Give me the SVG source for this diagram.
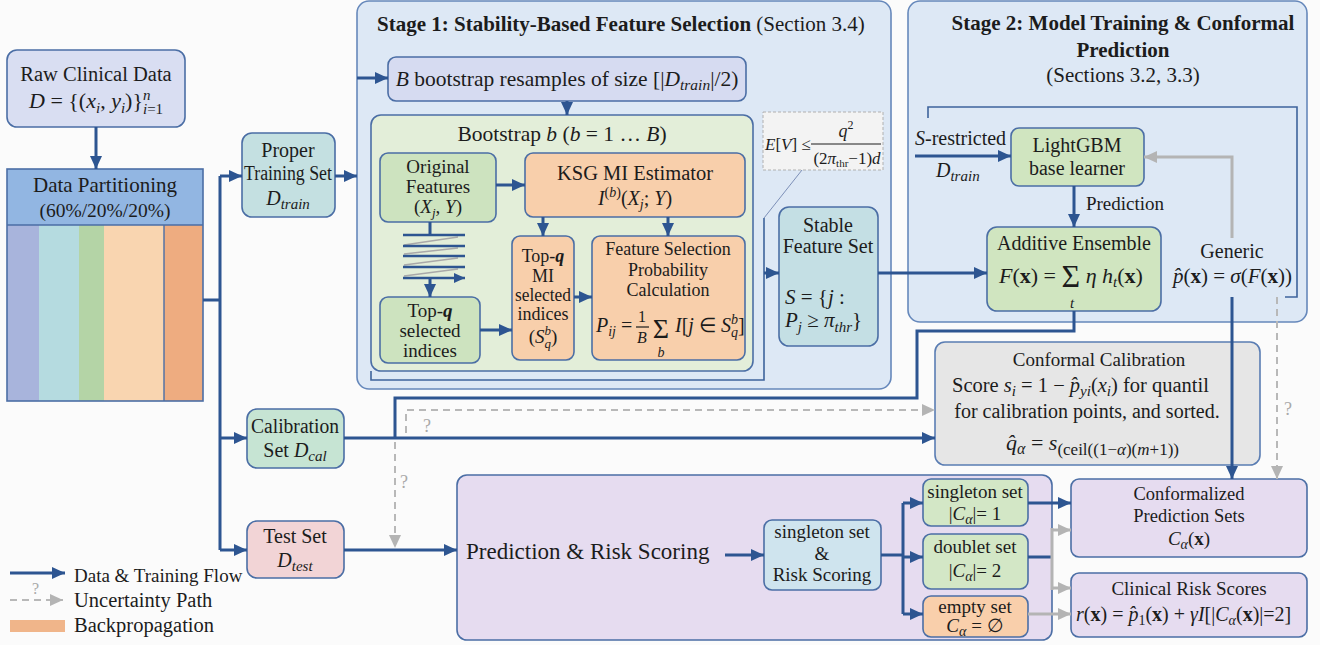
<svg xmlns="http://www.w3.org/2000/svg" width="1320" height="645" viewBox="0 0 1320 645" font-size="20">
<defs>
<style>
text{font-family:"Liberation Serif","Times New Roman",serif;fill:#1c1c1c}
.c{text-anchor:middle}
.i{font-style:italic}
.bd{font-weight:bold}
.node{stroke:#4b6ea5;stroke-width:1.6}
.stage{fill:#dde8f5;stroke:#6688bb;stroke-width:1.6}
.flow{fill:none;stroke:#2d5591;stroke-width:3}
.arr{marker-end:url(#ab)}
.zz{fill:none;stroke:#2d5591;stroke-width:2.4;marker-end:url(#as)}
.zg{fill:none;stroke:#a9a9a9;stroke-width:1.6}
.gray{fill:none;stroke:#b4b4b4;stroke-width:3}
.garr{marker-end:url(#ag)}
.dash{fill:none;stroke:#b8b8b8;stroke-width:2;stroke-dasharray:7 5;marker-end:url(#ag)}
.thin{fill:none;stroke:#3e639c;stroke-width:1.6}
.q{fill:#a9a9a9}
</style>
<marker id="ab" markerUnits="userSpaceOnUse" markerWidth="13" markerHeight="12" refX="13" refY="6" orient="auto"><path d="M0,0 L13,6 L0,12 z" fill="#2d5591"/></marker>
<marker id="as" markerUnits="userSpaceOnUse" markerWidth="11" markerHeight="10" refX="11" refY="5" orient="auto"><path d="M0,0 L11,5 L0,10 z" fill="#2d5591"/></marker>
<marker id="ag" markerUnits="userSpaceOnUse" markerWidth="13" markerHeight="12" refX="13" refY="6" orient="auto"><path d="M0,0 L13,6 L0,12 z" fill="#b4b4b4"/></marker>
</defs>

<rect width="1320" height="645" fill="#fbfbfb"/>

<!-- stage containers -->
<g id="stage1">
<rect class="stage" x="357" y="1" width="534" height="388" rx="12"/>
<text x="377" y="31" font-size="21"><tspan class="bd">Stage 1: Stability-Based Feature Selection</tspan> (Section 3.4)</text>
</g>
<g id="stage2">
<rect class="stage" x="908" y="1" width="399" height="321" rx="12"/>
<text class="c bd" x="1123" y="30" font-size="21">Stage 2: Model Training &amp; Conformal</text>
<text class="c bd" x="1123" y="57" font-size="21">Prediction</text>
<text class="c" x="1123" y="82" font-size="21">(Sections 3.2, 3.3)</text>
</g>
<g id="prediction-risk">
<rect class="node" x="457" y="475" width="595" height="165" rx="10" fill="#e6dcf0"/>
<text x="466" y="559" font-size="23">Prediction &amp; Risk Scoring</text>
</g>

<!-- input data -->
<g id="raw-data">
<rect class="node" x="7" y="50" width="178" height="77" rx="10" fill="#d9def2"/>
<text class="c" x="96" y="81" font-size="20.5">Raw Clinical Data</text>
<text x="29" y="108" font-size="22"><tspan class="i">D</tspan> = {(<tspan class="i">x</tspan><tspan class="i" font-size="15" dy="5">i</tspan><tspan dy="-5">, </tspan><tspan class="i">y</tspan><tspan class="i" font-size="15" dy="5">i</tspan><tspan dy="-5">)}</tspan><tspan class="i" font-size="15" dy="6">i</tspan><tspan font-size="15">=1</tspan></text>
<text class="i" x="143" y="100" font-size="15">n</text>
</g>

<g id="partition">
<rect x="7" y="169" width="196" height="56" fill="#92b6e2"/>
<rect x="7" y="225" width="32" height="176" fill="#a8b4dc"/>
<rect x="39" y="225" width="40" height="176" fill="#b5dbe0"/>
<rect x="79" y="225" width="25" height="176" fill="#b4d4a6"/>
<rect x="104" y="225" width="60" height="176" fill="#f9d5b0"/>
<rect x="164" y="225" width="39" height="176" fill="#eeac80"/>
<path d="M7,225 H203 M164,225 V401" stroke="#4b6ea5" stroke-width="1.4" fill="none"/>
<rect x="7" y="169" width="196" height="232" fill="none" class="node"/>
<text class="c" x="105" y="192" font-size="21">Data Partitioning</text>
<text class="c" x="105" y="217" font-size="19.5">(60%/20%/20%)</text>
</g>

<g id="train-set">
<rect class="node" x="242" y="133" width="93" height="84" rx="10" fill="#c4e0e1"/>
<text class="c" x="288" y="157">Proper</text>
<text class="c" x="288" y="180" textLength="88" lengthAdjust="spacingAndGlyphs">Training Set</text>
<text class="c" x="288" y="205"><tspan class="i">D</tspan><tspan class="i" font-size="15" dy="4">train</tspan></text>
</g>
<g id="cal-set">
<rect class="node" x="247" y="409" width="97" height="59" rx="10" fill="#c6e4d3"/>
<text class="c" x="295" y="433" textLength="88" lengthAdjust="spacingAndGlyphs">Calibration</text>
<text class="c" x="295" y="457">Set <tspan class="i">D</tspan><tspan class="i" font-size="15" dy="4">cal</tspan></text>
</g>
<g id="test-set">
<rect class="node" x="247" y="521" width="97" height="57" rx="10" fill="#f2d4d6"/>
<text class="c" x="295" y="543">Test Set</text>
<text class="c" x="295" y="567"><tspan class="i">D</tspan><tspan class="i" font-size="15" dy="4">test</tspan></text>
</g>

<!-- stage 1 nodes -->
<g id="resample">
<rect class="node" x="388" y="57" width="358" height="44" rx="8" fill="#d6dbf1"/>
<text class="c" x="567" y="86" font-size="21.5"><tspan class="i">B</tspan> bootstrap resamples of size [|<tspan class="i">D</tspan><tspan class="i" font-size="15.5" dy="4">train</tspan><tspan dy="-4">|/2)</tspan></text>
</g>
<g id="bootstrap">
<rect class="node" x="371" y="115" width="382" height="256" rx="10" fill="#e3eed9"/>
<text class="c" x="562" y="141" font-size="21.5">Bootstrap <tspan class="i">b</tspan> (<tspan class="i">b</tspan> = 1 … <tspan class="i">B</tspan>)</text>
</g>
<g id="orig-features">
<rect class="node" x="380" y="153" width="116" height="69" rx="8" fill="#cde3bf"/>
<text class="c" x="438" y="173" font-size="19">Original</text>
<text class="c" x="438" y="193" font-size="19">Features</text>
<text class="c" x="438" y="213" font-size="19">(<tspan class="i">X</tspan><tspan class="i" font-size="13" dy="4">j</tspan><tspan dy="-4">, </tspan><tspan class="i">Y</tspan>)</text>
</g>
<g id="ksg">
<rect class="node" x="525" y="153" width="220" height="64" rx="8" fill="#f8cfab"/>
<text class="c" x="635" y="180" font-size="20.5">KSG MI Estimator</text>
<text class="c" x="635" y="205"><tspan class="i">I</tspan><tspan font-size="14" dy="-8">(</tspan><tspan class="i" font-size="14">b</tspan><tspan font-size="14">)</tspan><tspan dy="8">(</tspan><tspan class="i">X</tspan><tspan class="i" font-size="14" dy="4">j</tspan><tspan dy="-4">; </tspan><tspan class="i">Y</tspan>)</text>
</g>
<g id="topq-selected">
<rect class="node" x="380" y="297" width="100" height="66" rx="8" fill="#cde3bf"/>
<text class="c" x="430" y="317" font-size="19">Top-<tspan class="i bd">q</tspan></text>
<text class="c" x="430" y="337" font-size="19">selected</text>
<text class="c" x="430" y="357" font-size="19">indices</text>
</g>
<g id="topq-mi">
<rect class="node" x="512" y="236" width="62" height="124" rx="8" fill="#f8cfab"/>
<text class="c" x="543" y="262" font-size="18">Top-<tspan class="i bd">q</tspan></text>
<text class="c" x="543" y="282" font-size="18">MI</text>
<text class="c" x="543" y="301" font-size="18" textLength="56" lengthAdjust="spacingAndGlyphs">selected</text>
<text class="c" x="543" y="320" font-size="18">indices</text>
<text class="c" x="543" y="343" font-size="19">(<tspan class="i">S</tspan><tspan class="i" font-size="13" dy="5">q</tspan><tspan class="i" font-size="13" dx="-6.5" dy="-13">b</tspan><tspan dy="8">)</tspan></text>
</g>
<g id="selection-prob">
<rect class="node" x="592" y="236" width="153" height="124" rx="8" fill="#f8cfab"/>
<text class="c" x="668" y="255" font-size="18">Feature Selection</text>
<text class="c" x="668" y="276" font-size="18">Probability</text>
<text class="c" x="668" y="296" font-size="18">Calculation</text>
<text x="596" y="332"><tspan class="i">P</tspan><tspan class="i" font-size="14" dy="4">ij</tspan><tspan dy="-4"> = </tspan></text>
<text class="c" x="642" y="322" font-size="16">1</text>
<path d="M636,327 H649" stroke="#1c1c1c" stroke-width="1.2"/>
<text class="c i" x="642" y="343" font-size="16">B</text>
<text class="c" x="661" y="338" font-size="28">Σ</text>
<text class="c i" x="661" y="357" font-size="14">b</text>
<text x="675" y="332"><tspan class="i">I</tspan>[<tspan class="i">j</tspan> ∈ <tspan class="i">S</tspan><tspan class="i" font-size="14" dy="5">q</tspan><tspan class="i" font-size="14" dx="-7" dy="-13">b</tspan><tspan dy="8">]</tspan></text>
</g>
<g id="error-bound">
<rect x="763" y="112" width="120" height="58" fill="#f3f3f3" stroke="#b0b0b0" stroke-width="1" stroke-dasharray="3 2"/>
<text x="765" y="150" font-size="17"><tspan class="i">E</tspan>[<tspan class="i">V</tspan>] ≤</text>
<text class="c" x="846" y="137" font-size="18"><tspan class="i">q</tspan><tspan font-size="12" dy="-8">2</tspan></text>
<path d="M811,144 H881" stroke="#1c1c1c" stroke-width="1"/>
<text class="c" x="847" y="164" font-size="17">(2<tspan class="i">π</tspan><tspan font-size="11" dy="3">thr</tspan><tspan dy="-3">−1)</tspan><tspan class="i">d</tspan></text>
</g>
<g id="stable-set">
<rect class="node" x="779" y="207" width="99" height="139" rx="10" fill="#c4dfe4"/>
<text class="c" x="828" y="232">Stable</text>
<text class="c" x="828" y="253">Feature Set</text>
<text x="785" y="304" font-size="21"><tspan class="i">S</tspan> = {<tspan class="i">j</tspan> :</text>
<text x="785" y="327" font-size="21"><tspan class="i">P</tspan><tspan class="i" font-size="15" dy="5">j</tspan><tspan dy="-5"> ≥ </tspan><tspan class="i">π</tspan><tspan class="i" font-size="15" dy="5">thr</tspan><tspan dy="-5">}</tspan></text>
</g>

<!-- stage 2 nodes -->
<g id="s-restricted">
<text x="915" y="145"><tspan class="i">S</tspan>-restricted</text>
<text x="936" y="177"><tspan class="i">D</tspan><tspan class="i" font-size="15" dy="4">train</tspan></text>
</g>
<g id="lightgbm">
<rect class="node" x="1011" y="128" width="133" height="58" rx="8" fill="#d0e5c0"/>
<text class="c" x="1077" y="152">LightGBM</text>
<text class="c" x="1077" y="175">base learner</text>
</g>
<g id="ensemble">
<rect class="node" x="987" y="227" width="174" height="84" rx="10" fill="#d0e5c0"/>
<text class="c" x="1074" y="250">Additive Ensemble</text>
<text x="999" y="283" font-size="22"><tspan class="i">F</tspan>(<tspan class="bd">x</tspan>) = <tspan font-size="32" dy="4">Σ</tspan><tspan dy="-4"> </tspan><tspan class="i">η</tspan> <tspan class="i">h</tspan><tspan class="i" font-size="15" dy="4">t</tspan><tspan dy="-4">(</tspan><tspan class="bd">x</tspan>)</text>
<text class="c i" x="1072" y="308" font-size="15">t</text>
</g>
<g id="generic">
<text class="c" x="1232" y="258">Generic</text>
<text x="1173" y="283" font-size="21"><tspan class="i">p̂</tspan>(<tspan class="bd">x</tspan>) = <tspan class="i">σ</tspan>(<tspan class="i">F</tspan>(<tspan class="bd">x</tspan>))</text>
</g>
<text class="c" x="1125" y="210" font-size="19">Prediction</text>

<g id="conformal-calibration">
<rect x="935" y="342" width="325" height="123" rx="10" fill="#e6e6e6" stroke="#5a7db3" stroke-width="1.6"/>
<text class="c" x="1099" y="366" font-size="19">Conformal Calibration</text>
<text x="952" y="392" font-size="20.5">Score <tspan class="i">s</tspan><tspan class="i" font-size="15" dy="4">i</tspan><tspan dy="-4"> = 1 − </tspan><tspan class="i">p̂</tspan><tspan class="i" font-size="15" dy="4">yi</tspan><tspan dy="-4">(</tspan><tspan class="i">x</tspan><tspan class="i" font-size="15" dy="4">i</tspan><tspan dy="-4">) for quantil</tspan></text>
<text class="c" x="1087" y="418">for calibration points, and sorted.</text>
<text x="1006" y="450" font-size="22"><tspan class="i">q̂</tspan><tspan class="i" font-size="16" dy="4">α</tspan><tspan dy="-4"> = </tspan><tspan class="i">s</tspan><tspan font-size="17" dy="5">(ceil((1−<tspan class="i">α</tspan>)(<tspan class="i">m</tspan>+1))</tspan></text>
</g>

<!-- prediction stage nodes -->
<g id="set-scoring">
<rect class="node" x="764" y="520" width="117" height="70" rx="8" fill="#cfe4ee"/>
<text class="c" x="822" y="538" font-size="19">singleton set</text>
<text class="c" x="822" y="560" font-size="19">&amp;</text>
<text class="c" x="822" y="581" font-size="19">Risk Scoring</text>
</g>
<g id="singleton">
<rect class="node" x="923" y="479" width="105" height="47" rx="8" fill="#d3e7c6"/>
<text class="c" x="975" y="498" font-size="19">singleton set</text>
<text class="c" x="975" y="520" font-size="19">|<tspan class="i">C</tspan><tspan class="i" font-size="14" dy="4">α</tspan><tspan dy="-4">|= 1</tspan></text>
</g>
<g id="doublet">
<rect class="node" x="923" y="534" width="105" height="55" rx="8" fill="#d3e7c6"/>
<text class="c" x="975" y="553" font-size="19">doublet set</text>
<text class="c" x="975" y="577" font-size="19">|<tspan class="i">C</tspan><tspan class="i" font-size="14" dy="4">α</tspan><tspan dy="-4">|= 2</tspan></text>
</g>
<g id="empty">
<rect class="node" x="923" y="596" width="105" height="41" rx="8" fill="#f9cfab"/>
<text class="c" x="975" y="613" font-size="19">empty set</text>
<text class="c" x="975" y="632" font-size="19"><tspan class="i">C</tspan><tspan class="i" font-size="14" dy="4">α</tspan><tspan dy="-4"> = ∅</tspan></text>
</g>
<g id="prediction-sets">
<rect class="node" x="1071" y="479" width="236" height="78" rx="8" fill="#e6dcf0"/>
<text class="c" x="1189" y="500" font-size="18.5">Conformalized</text>
<text class="c" x="1189" y="522" font-size="18.5">Prediction Sets</text>
<text class="c" x="1189" y="545" font-size="19"><tspan class="i">C</tspan><tspan class="i" font-size="14" dy="4">α</tspan><tspan dy="-4">(</tspan><tspan class="bd">x</tspan>)</text>
</g>
<g id="risk-scores">
<rect class="node" x="1071" y="573" width="236" height="64" rx="8" fill="#e6dcf0"/>
<text class="c" x="1189" y="595" font-size="19">Clinical Risk Scores</text>
<text x="1076" y="621"><tspan class="i">r</tspan>(<tspan class="bd">x</tspan>) = <tspan class="i">p̂</tspan><tspan font-size="14" dy="4">1</tspan><tspan dy="-4">(</tspan><tspan class="bd">x</tspan>) + <tspan class="i">γI</tspan>[|<tspan class="i">C</tspan><tspan class="i" font-size="14" dy="4">α</tspan><tspan dy="-4">(</tspan><tspan class="bd">x</tspan>)|=2]</text>
</g>

<!-- connectors -->
<g id="connectors">
<path class="thin" d="M371,371 V380 H764 V218"/>
<path d="M764,218 L802,170" stroke="#7d90b8" stroke-width="1" fill="none"/>
<path class="thin" d="M928,118 V107 H1297 V297 H1285"/>

<path class="flow" d="M203,300 H220 M220,176 V550"/>
<path class="flow arr" d="M96,127 V169"/>
<path class="flow arr" d="M220,176 H242"/>
<path class="flow arr" d="M220,438 H247"/>
<path class="flow arr" d="M220,550 H247"/>
<path class="flow arr" d="M335,176 H357"/>
<path class="flow arr" d="M357,78 H388"/>
<path class="flow arr" d="M567,101 V115"/>
<path class="flow arr" d="M496,185 H525"/>
<path class="flow" d="M430,222 V235"/>
<path class="zg" d="M458,237 L404,245 M458,248 L404,254 M458,258 L404,265 M458,269 L404,276"/>
<path class="zz" d="M403,235 H465 M403,246 H465 M403,256 H465 M403,267 H465 M403,278 H465"/>
<path class="flow arr" d="M430,278 V297"/>
<path class="flow arr" d="M480,330 H512"/>
<path class="flow arr" d="M543,217 V236"/>
<path class="flow arr" d="M668,217 V236"/>
<path class="flow arr" d="M574,297 H592"/>
<path class="flow arr" d="M764,273 H779"/>
<path class="flow arr" d="M878,273 H987"/>
<path class="flow arr" d="M915,156 H1011"/>
<path class="flow arr" d="M1074,186 V227"/>
<path class="flow" d="M1074,311 V331 H917 V398 H395 V438"/>
<path class="flow arr" d="M344,438 H935"/>
<path class="flow arr" d="M344,550 H457"/>
<path class="flow arr" d="M1232,297 V479"/>
<path class="flow arr" d="M725,555 H764"/>
<path class="flow" d="M881,555 H903 M903,503 V614"/>
<path class="flow arr" d="M903,503 H923"/>
<path class="flow arr" d="M903,557 H923"/>
<path class="flow arr" d="M903,614 H923"/>
<path class="flow arr" d="M1028,503 H1071"/>
<path class="flow" d="M1028,557 H1052"/>

<path class="gray garr" d="M1232,238 V157 H1144"/>
<path class="gray" d="M1052,528 V590"/>
<path class="gray garr" d="M1052,530 H1071"/>
<path class="gray garr" d="M1052,588 H1071"/>
<path class="gray garr" d="M1028,614 H1071"/>

<path class="dash" d="M406,433 V410 H935"/>
<path class="dash" d="M395,442 V548"/>
<path class="dash" d="M1277,297 V479"/>
<text class="q" x="423" y="432" font-size="18">?</text>
<text class="q" x="400" y="488" font-size="18">?</text>
<text class="q" x="1284" y="415" font-size="18">?</text>
</g>

<!-- legend -->
<g id="legend">
<path class="flow arr" d="M10,573 H65"/>
<text x="74" y="582" font-size="19">Data &amp; Training Flow</text>
<path class="dash" d="M10,600 H63"/>
<text class="q" x="32" y="594" font-size="16">?</text>
<text x="74" y="607" font-size="20.5">Uncertainty Path</text>
<rect x="10" y="620" width="55" height="12" fill="#f0b58a"/>
<text x="74" y="632" font-size="20.5">Backpropagation</text>
</g>
</svg>
